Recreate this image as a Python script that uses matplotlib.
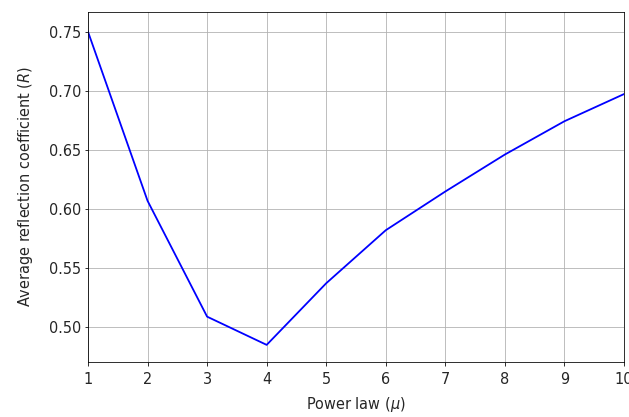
import matplotlib
matplotlib.use("Agg")
import matplotlib.pyplot as plt

# power law exponent vs average reflection coefficient
mu = [1, 2, 3, 4, 5, 6, 7, 8, 9, 10]
R_avg = [0.750, 0.6068, 0.5087, 0.4848, 0.5370, 0.5819, 0.6147, 0.6460, 0.6742, 0.6972]

W, H = 629, 417
fig = plt.figure(figsize=(W / 72, H / 72), dpi=72)
ax = fig.add_axes([88 / W, (H - 362) / H, (624 - 88) / W, (362 - 12) / H])

ax.plot(mu, R_avg, color="b", lw=1.8)
ax.set_xlim(1, 10)
ax.set_ylim(0.4703, 0.7667)
ax.set_xticks(mu)
ax.grid(True)
ax.tick_params(labelsize=14.5, labelcolor="#262626")
ax.tick_params(axis="x", pad=6)
ax.set_xlabel(r"Power law ($\mu$)", fontsize=14.5, color="#262626", labelpad=9)
ax.set_ylabel(r"Average reflection coefficient ($R$)", fontsize=14.5, color="#262626", labelpad=14)

plt.savefig("out.png", dpi=72)
